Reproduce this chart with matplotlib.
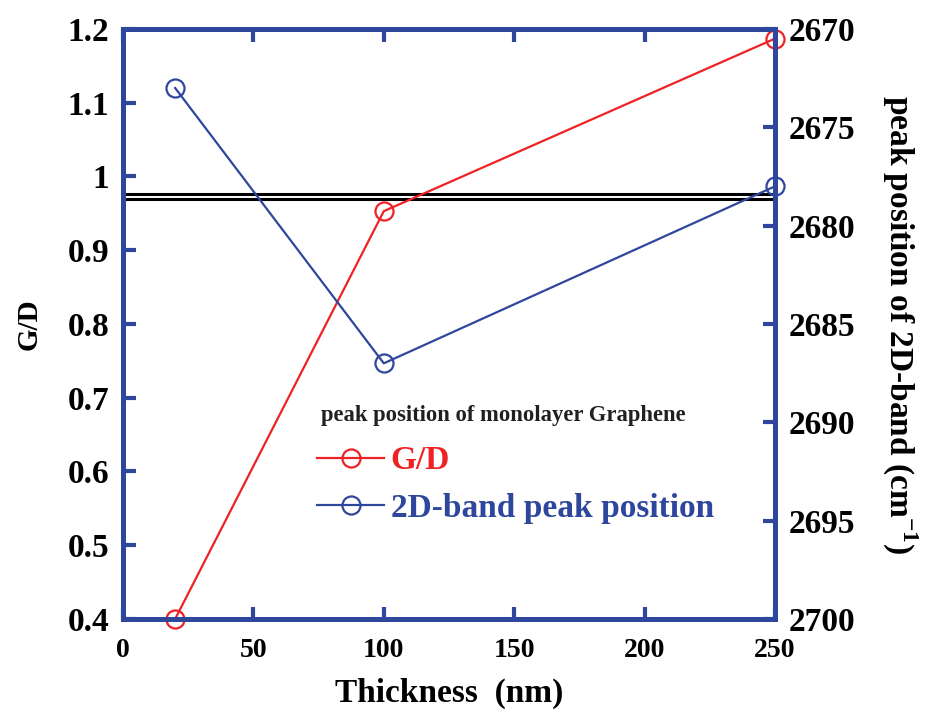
import matplotlib.pyplot as plt
from matplotlib.lines import Line2D

thickness = [20, 100, 250]
g_over_d = [0.40, 0.953, 1.187]
peak_2d = [2673.0, 2687.0, 2678.0]
monolayer_levels = [0.976, 0.969]

x_ticks = [0, 50, 100, 150, 200, 250]
left_ticks = [0.4, 0.5, 0.6, 0.7, 0.8, 0.9, 1.0, 1.1, 1.2]
left_labels = ["0.4", "0.5", "0.6", "0.7", "0.8", "0.9", "1", "1.1", "1.2"]
right_ticks = [2670, 2675, 2680, 2685, 2690, 2695, 2700]

RED = "#ee2224"
BLUE = "#2e479c"
FRAME = "#2e479c"

plt.rcParams["font.family"] = ["Liberation Serif", "DejaVu Serif"]
plt.rcParams["font.weight"] = "bold"
plt.rcParams["mathtext.fontset"] = "custom"
plt.rcParams["mathtext.rm"] = "Liberation Serif:bold"
plt.rcParams["mathtext.bf"] = "Liberation Serif:bold"

fig = plt.figure(figsize=(9.28, 7.13), dpi=100)
ax = fig.add_axes([123 / 928, 1 - 619 / 713, (775 - 123) / 928, (619 - 29) / 713])
ax2 = ax.twinx()

# monolayer reference (double black line)
for lvl in monolayer_levels:
    ax.axhline(lvl, color="black", lw=2.2, zorder=2)

ax.plot(thickness, g_over_d, color=RED, lw=1.6, marker="o", ms=13,
        mfc="none", mec=RED, mew=1.6, zorder=3, clip_on=False)
ax2.plot(thickness, peak_2d, color=BLUE, lw=1.6, marker="o", ms=13,
         mfc="none", mec=BLUE, mew=1.6, zorder=3, clip_on=False)

ax.set_xlim(0, 250)
ax.set_ylim(0.4, 1.2)
ax2.set_ylim(2700, 2670)

ax.set_xticks(x_ticks)
ax.set_yticks(left_ticks)
ax.set_yticklabels(left_labels)
ax2.set_yticks(right_ticks)

for a in (ax, ax2):
    for sp in a.spines.values():
        sp.set_color(FRAME)
        sp.set_linewidth(3.5)
    a.tick_params(direction="in", length=9, width=3, color=FRAME,
                  labelsize=24, pad=10)
ax.tick_params(axis="x", top=True, labelsize=20, pad=14)
ax.tick_params(axis="y", right=False)
ax2.tick_params(axis="y", left=False)

ax.set_xlabel("Thickness  (nm)", fontsize=24, fontweight="bold", labelpad=10)
ax.set_ylabel("G/D", fontsize=21, fontweight="bold", labelpad=18)
ax2.set_ylabel("peak position of 2D-band (cm$^{-1}$)", fontsize=24,
               fontweight="bold", rotation=270, labelpad=46)

ax.text(0.303, 0.335, "peak position of monolayer Graphene", transform=ax.transAxes,
        fontsize=16.3, fontweight="bold", color="#231f20")

handles = [
    Line2D([], [], color=RED, lw=1.6, marker="o", ms=13, mfc="none", mew=1.6),
    Line2D([], [], color=BLUE, lw=1.6, marker="o", ms=13, mfc="none", mew=1.6),
]
leg = ax.legend(handles, ["G/D", "2D-band peak position"], loc="upper left",
                bbox_to_anchor=(0.252, 0.345), frameon=False, fontsize=24,
                handlelength=2.0, handletextpad=0.2, labelspacing=0.5)
for txt, c in zip(leg.get_texts(), [RED, BLUE]):
    txt.set_color(c)
    txt.set_fontweight("bold")

fig.savefig("out.png", dpi=100)
